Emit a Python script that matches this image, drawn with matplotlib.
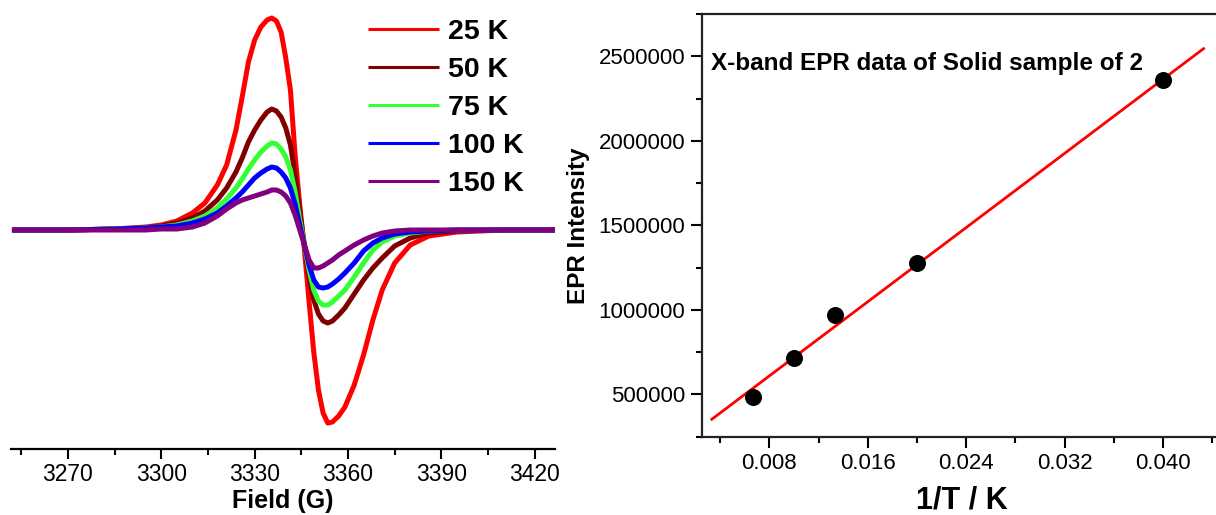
import matplotlib
matplotlib.use("Agg")
import matplotlib.pyplot as plt
from matplotlib.ticker import MultipleLocator, FixedLocator

plt.rcParams['font.family'] = ['Liberation Sans', 'DejaVu Sans']

# ---------------- data: left panel (EPR spectra, arbitrary units) ----------------
field = [3252, 3270, 3285, 3295, 3300, 3305, 3310, 3314,
         3318, 3321, 3324, 3326, 3328, 3330, 3332, 3334, 3335.5, 3337, 3338.5, 3340,
         3341.5, 3343, 3344.5, 3346, 3347.5, 3349, 3350.5, 3352, 3353.5, 3355, 3357,
         3359, 3362, 3365, 3368, 3371, 3375, 3380, 3386, 3395, 3410, 3427]
sig_25K = [0, 0, 1, 3, 5, 9, 17, 27,
           45, 65, 100, 133, 168, 190, 203, 210, 212, 209, 198, 172,
           140, 75, 25, -20, -72, -122, -160, -183, -193, -192, -186,
           -177, -155, -125, -90, -60, -33, -15, -6, -2, 0, 0]
sig_50K = [0, 0, 1, 2, 4, 7, 12, 19,
           30, 42, 58, 72, 88, 100, 110, 118, 121, 119, 113, 102,
           85, 55, 18, -15, -47, -70, -84, -91, -93, -91, -85,
           -78, -64, -50, -38, -28, -16, -8, -3, -1, 0, 0]
sig_75K = [0, 0, 1, 2, 3, 5, 9, 14,
           22, 31, 42, 51, 61, 70, 78, 84, 87, 86, 81, 73,
           60, 38, 10, -15, -40, -60, -71, -75, -75, -72, -66,
           -60, -47, -33, -20, -12, -6, -3, -1, 0, 0, 0]
sig_100K = [0, 0, 1, 2, 3, 4, 7, 11,
            17, 24, 32, 38, 45, 52, 57, 61, 63, 62, 58, 52,
            42, 26, 5, -15, -35, -50, -57, -58, -57, -54, -49,
            -43, -33, -21, -13, -8, -4, -2, -1, 0, 0, 0]
sig_150K = [0, 0, 0, 0, 1, 1, 3, 7,
            14, 21, 27, 30, 32, 34, 36, 38, 40, 40, 38, 34,
            27, 15, 0, -15, -30, -38, -38, -36, -33, -30, -25,
            -21, -15, -10, -6, -3, -1, 0, 0, 0, 0, 0]
series_labels = ['25 K', '50 K', '75 K', '100 K', '150 K']
series_colors = ['#ff0000', '#800000', '#33ff33', '#0000ff', '#800080']
field_ticks = [3270, 3300, 3330, 3360, 3390, 3420]

# ---------------- data: right panel (intensity vs 1/T) ----------------
inv_T = [1 / 150, 1 / 100, 1 / 75, 1 / 50, 1 / 25]
intensity = [484000, 718000, 969000, 1276000, 2357000]
fit_x = [0.00332, 0.0433]
fit_y = [352900, 2545000]
invT_ticks = [0.008, 0.016, 0.024, 0.032, 0.040]
invT_ticklabels = ['0.008', '0.016', '0.024', '0.032', '0.040']
int_ticks = [500000, 1000000, 1500000, 2000000, 2500000]

W, H = 1216, 515
fig = plt.figure(figsize=(W / 100, H / 100), dpi=100)

def frac(x0, y_top, x1, y_bot):
    return [x0 / W, (H - y_bot) / H, (x1 - x0) / W, (y_bot - y_top) / H]

# ---------------- left panel ----------------
ax1 = fig.add_axes(frac(10.7, 0, 554.6, 449))
for y, lab, col in zip([sig_25K, sig_50K, sig_75K, sig_100K, sig_150K],
                       series_labels, series_colors):
    ax1.plot(field, y, color=col, lw=3.6, label=lab,
             solid_joinstyle='round', solid_capstyle='butt')
ax1.set_xlim(3251.6, 3426.4)
ax1.set_ylim(-219, 230)
for s in ['left', 'right', 'top']:
    ax1.spines[s].set_visible(False)
ax1.spines['bottom'].set_linewidth(1.6)
ax1.set_yticks([])
ax1.xaxis.set_major_locator(FixedLocator(field_ticks))
ax1.xaxis.set_minor_locator(MultipleLocator(15))
ax1.tick_params(axis='x', which='major', direction='out', length=7, width=1.5,
                labelsize=16.5, pad=3)
ax1.tick_params(axis='x', which='minor', direction='out', length=4, width=1.5)
ax1.set_xlabel('Field (G)', fontsize=18, fontweight='bold', labelpad=2)
leg = ax1.legend(loc='upper left', bbox_to_anchor=(368 / W, 1 - 19 / H),
                 bbox_transform=fig.transFigure, frameon=False,
                 prop={'weight': 'bold', 'size': 20.5}, handlelength=2.5,
                 handletextpad=0.3, labelspacing=0.42, borderpad=0, borderaxespad=0)
for h in leg.get_lines():
    h.set_linewidth(2.2)

# ---------------- right panel ----------------
ax2 = fig.add_axes(frac(701.7, 14, 1222, 436.7))
ax2.plot(fit_x, fit_y, color='#ff0000', lw=2.0, zorder=2)
ax2.scatter(inv_T, intensity, s=150, color='black', zorder=3, linewidths=0)
ax2.set_xlim(0.0025, 0.0025 + (1222 - 701.7) / 12300)
ax2.set_ylim(250000, 2750000)
for s in ax2.spines.values():
    s.set_linewidth(1.6)
    s.set_color('#222222')
ax2.spines['right'].set_visible(False)
ax2.xaxis.set_major_locator(FixedLocator(invT_ticks))
ax2.set_xticklabels(invT_ticklabels)
ax2.xaxis.set_minor_locator(MultipleLocator(0.004))
ax2.yaxis.set_major_locator(FixedLocator(int_ticks))
ax2.set_yticklabels([str(v) for v in int_ticks])
ax2.yaxis.set_minor_locator(MultipleLocator(250000))
ax2.tick_params(which='major', direction='out', length=8, width=1.5, labelsize=16, pad=4)
ax2.tick_params(which='minor', direction='out', length=4.5, width=1.5)
ax2.set_xlabel('1/T / K', fontsize=22, fontweight='bold', labelpad=8)
ax2.set_ylabel('EPR Intensity', fontsize=17.5, fontweight='bold', labelpad=6)
ax2.text(0.018, 0.882, 'X-band EPR data of Solid sample of 2', transform=ax2.transAxes,
         fontsize=17.5, fontweight='bold', va='center', ha='left')

fig.savefig('out.png', dpi=100)
